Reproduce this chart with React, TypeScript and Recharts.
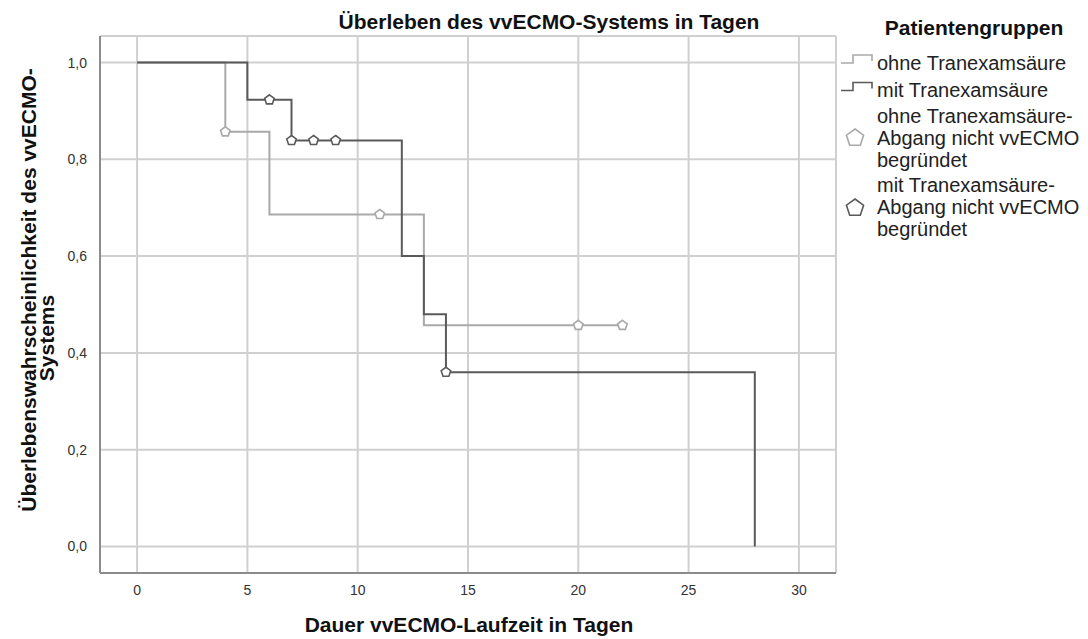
import React from 'react'
import { ComposedChart, Line, Scatter, XAxis, YAxis, CartesianGrid } from 'recharts'

// Kaplan-Meier Stufen (Zeit in Tagen, Überlebenswahrscheinlichkeit)
const ohneZeit = [0, 4, 6, 13, 22]
const ohneWert = [1, 0.857, 0.686, 0.457, 0.457]
const mitZeit = [0, 5, 7, 12, 13, 14, 28]
const mitWert = [1, 0.923, 0.839, 0.6, 0.48, 0.36, 0]

// zensierte Fälle
const ohneZensZeit = [4, 11, 20, 22]
const ohneZensWert = [0.857, 0.686, 0.457, 0.457]
const mitZensZeit = [6, 7, 8, 9, 14]
const mitZensWert = [0.923, 0.839, 0.839, 0.839, 0.36]

const xTicks = [0, 5, 10, 15, 20, 25, 30]
const yTicks = [0, 0.2, 0.4, 0.6, 0.8, 1]

const toPoints = (xs: number[], ys: number[]) => xs.map((x, i) => ({ x, y: ys[i] }))

const ohneData = toPoints(ohneZeit, ohneWert)
const mitData = toPoints(mitZeit, mitWert)
const ohneZens = toPoints(ohneZensZeit, ohneZensWert)
const mitZens = toPoints(mitZensZeit, mitZensWert)

const HELL = '#a9a9a9'
const DUNKEL = '#5a5a5a'
const FONT = '"Liberation Sans", Arial, sans-serif'

if (typeof document !== 'undefined') document.body.style.margin = '0'

const pentagonPoints = (cx: number, cy: number, r: number) =>
  [0, 1, 2, 3, 4]
    .map((i) => {
      const a = ((-90 + 72 * i) * Math.PI) / 180
      return `${cx + r * Math.cos(a)},${cy + r * Math.sin(a)}`
    })
    .join(' ')

const pentagon = (color: string) => (props: any) => (
  <polygon points={pentagonPoints(props.cx, props.cy, 5)} fill="#fff" stroke={color} strokeWidth={1.6} />
)

const App = () => {
  return (
    <div style={{ position: 'relative', width: 1088, height: 639, background: '#fff', fontFamily: FONT }}>
      <ComposedChart
        width={1088}
        height={639}
        margin={{ top: 36, right: 252, left: 40, bottom: 26 }}
        style={{ position: 'absolute', left: 0, top: 0 }}
      >
        <CartesianGrid stroke="#d0d0d0" strokeWidth={2} verticalPoints={undefined} />
        <XAxis
          type="number"
          dataKey="x"
          domain={[-1.68, 31.68]}
          ticks={xTicks}
          height={40}
          tickLine={false}
          tickSize={0}
          tickMargin={12}
          axisLine={{ stroke: '#8c8c8c', strokeWidth: 2 }}
          tick={{ fill: '#333', fontSize: 14, fontFamily: FONT }}
          allowDataOverflow
        />
        <YAxis
          type="number"
          dataKey="y"
          domain={[-0.055, 1.055]}
          ticks={yTicks}
          width={60}
          tickLine={false}
          tickSize={0}
          tickMargin={13}
          axisLine={{ stroke: '#8c8c8c', strokeWidth: 2 }}
          tick={{ fill: '#333', fontSize: 14, fontFamily: FONT }}
          tickFormatter={(v: number) => v.toFixed(1).replace('.', ',')}
          allowDataOverflow
        />
        <Line data={ohneData} dataKey="y" type="stepAfter" stroke={HELL} strokeWidth={2} dot={false} activeDot={false} isAnimationActive={false} />
        <Line data={mitData} dataKey="y" type="stepAfter" stroke={DUNKEL} strokeWidth={2} dot={false} activeDot={false} isAnimationActive={false} />
        <Scatter data={ohneZens} dataKey="y" shape={pentagon(HELL)} isAnimationActive={false} />
        <Scatter data={mitZens} dataKey="y" shape={pentagon(DUNKEL)} isAnimationActive={false} />
      </ComposedChart>

      <svg width={1088} height={639} style={{ position: 'absolute', left: 0, top: 0, pointerEvents: 'none' }} fontFamily={FONT}>
        <text x={549} y={29} textAnchor="middle" fontSize={21} fontWeight="bold" fill="#111">
          Überleben des vvECMO-Systems in Tagen
        </text>
        <text x={469} y={632} textAnchor="middle" fontSize={21} fontWeight="bold" fill="#111">
          Dauer vvECMO-Laufzeit in Tagen
        </text>
        <text x={36} y={290} transform="rotate(-90 36 290)" textAnchor="middle" fontSize={21} fontWeight="bold" fill="#111">
          Überlebenswahrscheinlichkeit des vvECMO-
        </text>
        <text x={54} y={338} transform="rotate(-90 54 338)" textAnchor="middle" fontSize={21} fontWeight="bold" fill="#111">
          Systems
        </text>

        {/* Legende */}
        <text x={974} y={35} textAnchor="middle" fontSize={21} fontWeight="bold" fill="#111">
          Patientengruppen
        </text>
        <path d="M841 63 H853 V55 H872 V61" fill="none" stroke={HELL} strokeWidth={1.6} />
        <text x={877} y={70} fontSize={20} fill="#222">ohne Tranexamsäure</text>
        <path d="M841 90.5 H853 V82.5 H872 V88.5" fill="none" stroke={DUNKEL} strokeWidth={1.6} />
        <text x={877} y={97} fontSize={20} fill="#222">mit Tranexamsäure</text>

        <polygon points={pentagonPoints(855, 138, 9)} fill="#fff" stroke={HELL} strokeWidth={1.6} />
        <text x={877} y={123} fontSize={20} fill="#222">
          <tspan x={877}>ohne Tranexamsäure-</tspan>
          <tspan x={877} dy={22}>Abgang nicht vvECMO</tspan>
          <tspan x={877} dy={22}>begründet</tspan>
        </text>
        <polygon points={pentagonPoints(855, 208, 9)} fill="#fff" stroke={DUNKEL} strokeWidth={1.6} />
        <text x={877} y={192} fontSize={20} fill="#222">
          <tspan x={877}>mit Tranexamsäure-</tspan>
          <tspan x={877} dy={22}>Abgang nicht vvECMO</tspan>
          <tspan x={877} dy={22}>begründet</tspan>
        </text>
      </svg>
    </div>
  )
}

export default App
